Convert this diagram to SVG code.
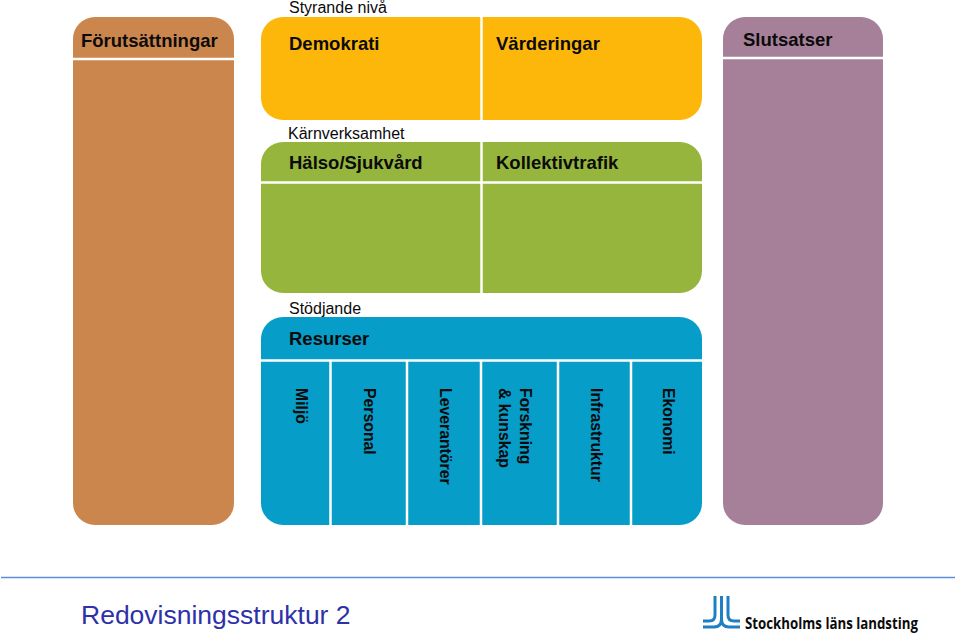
<svg xmlns="http://www.w3.org/2000/svg" width="960" height="633" viewBox="0 0 960 633">
<style>
text{font-family:"Liberation Sans",Arial,sans-serif;fill:#0b0b0b}
.h{font-size:18.500px;font-weight:bold}
.s{font-size:16px}
.v{font-size:15.800px;font-weight:bold}
.d{stroke:#fff;stroke-width:2.500;fill:none}
</style>
<rect width="960" height="633" fill="#fff"/>
<g id="forutsattningar">
<rect x="73" y="17" width="161" height="508" rx="22" fill="#cb864e"/>
<path class="d" d="M73 59H234"/>
<text class="h" x="81" y="47">Förutsättningar</text>
</g>
<g id="slutsatser">
<rect x="723" y="17" width="160" height="508" rx="22" fill="#a68099"/>
<path class="d" d="M723 58H883"/>
<text class="h" x="743" y="46">Slutsatser</text>
</g>
<g id="styrande">
<text class="s" x="289" y="13">Styrande nivå</text>
<rect x="261" y="17" width="441" height="103" rx="22" fill="#fdb70b"/>
<path class="d" d="M481.500 17V120"/>
<text class="h" x="289" y="50">Demokrati</text>
<text class="h" x="496" y="50">Värderingar</text>
</g>
<g id="karnverksamhet">
<text class="s" x="288" y="139">Kärnverksamhet</text>
<rect x="261" y="142" width="441" height="151" rx="22" fill="#95b53d"/>
<path class="d" d="M481.500 142V293M261 182.500H702"/>
<text class="h" x="289" y="169">Hälso/Sjukvård</text>
<text class="h" x="496" y="169">Kollektivtrafik</text>
</g>
<g id="stodjande">
<text class="s" x="289" y="314">Stödjande</text>
<rect x="261" y="317" width="441" height="208" rx="22" fill="#069dc9"/>
<path class="d" d="M261 360.500H702M330.500 360V525M407 360V525M481 360V525M558 360V525M631 360V525"/>
<text class="h" x="289" y="345">Resurser</text>
<text class="v" transform="translate(296,388) rotate(90)">Miljö</text>
<text class="v" transform="translate(363.500,388) rotate(90)">Personal</text>
<text class="v" transform="translate(440,388) rotate(90)">Leverantörer</text>
<text class="v" transform="translate(519.500,388) rotate(90)">Forskning</text>
<text class="v" transform="translate(499,388) rotate(90)">&amp; kunskap</text>
<text class="v" transform="translate(591,388) rotate(90)">Infrastruktur</text>
<text class="v" transform="translate(663,388) rotate(90)">Ekonomi</text>
</g>
<g id="sidfot">
<path d="M1 577.500H955" stroke="#5b8fd9" stroke-width="1.500" fill="none"/>
<text x="81" y="624" style="font-size:26.500px;fill:#2e31a8">Redovisningsstruktur 2</text>
</g>
<g id="logotyp">
<path d="M703 621H709Q715 621 715 615V596M703 627H714Q721.500 627 721.500 619V596M740 627H729Q721.500 627 721.500 619M740 621H734Q728 621 728 615V596" stroke="#1f7fc4" stroke-width="3" fill="none"/>
<text x="745" y="629" style="font-size:15.500px;font-weight:bold;font-family:'Open Sans','Liberation Sans',sans-serif" textLength="173" lengthAdjust="spacingAndGlyphs">Stockholms läns landsting</text>
</g>
</svg>
